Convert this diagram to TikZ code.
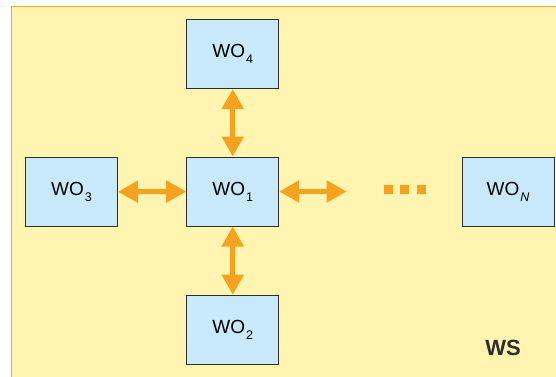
\documentclass[tikz,border=0pt]{standalone}
\usepackage{fontspec}
\setmainfont{Liberation Sans}
\usetikzlibrary{arrows.meta}
\definecolor{bgyellow}{HTML}{FFF5B0}
\definecolor{bgorange}{HTML}{F5A623}
\definecolor{arrorange}{HTML}{F5A31F}
\definecolor{boxblue}{HTML}{C8E9F9}
\definecolor{boxline}{HTML}{2E2E2E}
\newcommand{\wosub}[1]{WO\kern1pt\raisebox{-6pt}{\fontsize{12.5}{12.5}\selectfont #1}}
\tikzset{
  wobox/.style={rectangle, draw=boxline, line width=1pt, fill=boxblue,
    minimum width=92pt, minimum height=69pt, inner sep=0pt,
    font=\fontsize{19}{19}\selectfont},
  biarrow/.style={draw=arrorange, line width=5pt,
    {Triangle[length=20pt,width=21pt]}-{Triangle[length=20pt,width=21pt]}},
  dotsq/.style={fill=arrorange, draw=none, minimum size=8.7pt, inner sep=0pt, rectangle}
}
\begin{document}
\begin{tikzpicture}[x=1pt,y=-1pt]
\useasboundingbox (0,0) rectangle (556,376);
\fill[bgyellow] (11,6) rectangle (560,380);
\draw[bgorange, line width=1pt] (11,380) -- (11,6) -- (560,6);
\node[wobox] (wo4) at (232.7,54) {\wosub{4}};
\node[wobox] (wo1) at (232.7,191.5) {\wosub{1}};
\node[wobox] (wo3) at (71.5,191.8) {\wosub{3}};
\node[wobox] (wo2) at (232.7,329.7) {\wosub{2}};
\node[wobox] (woN) at (508,191.8) {\wosub{\itshape N}};
\coordinate (rend) at (346.7,191.5);
\draw[biarrow] (wo4.south) -- (wo1.north);
\draw[biarrow] (wo1.south) -- (wo2.north);
\draw[biarrow] (wo3.east) -- (wo1.west);
\draw[biarrow] (wo1.east) -- (rend);
\node[dotsq] (d1) at (388.3,189.3) {};
\node[dotsq] (d2) at (404.6,189.3) {};
\node[dotsq] (d3) at (421.7,189.3) {};
\node[font=\fontsize{22}{22}\selectfont\bfseries, text=boxline] (ws) at (503,348) {WS};
\end{tikzpicture}
\end{document}
